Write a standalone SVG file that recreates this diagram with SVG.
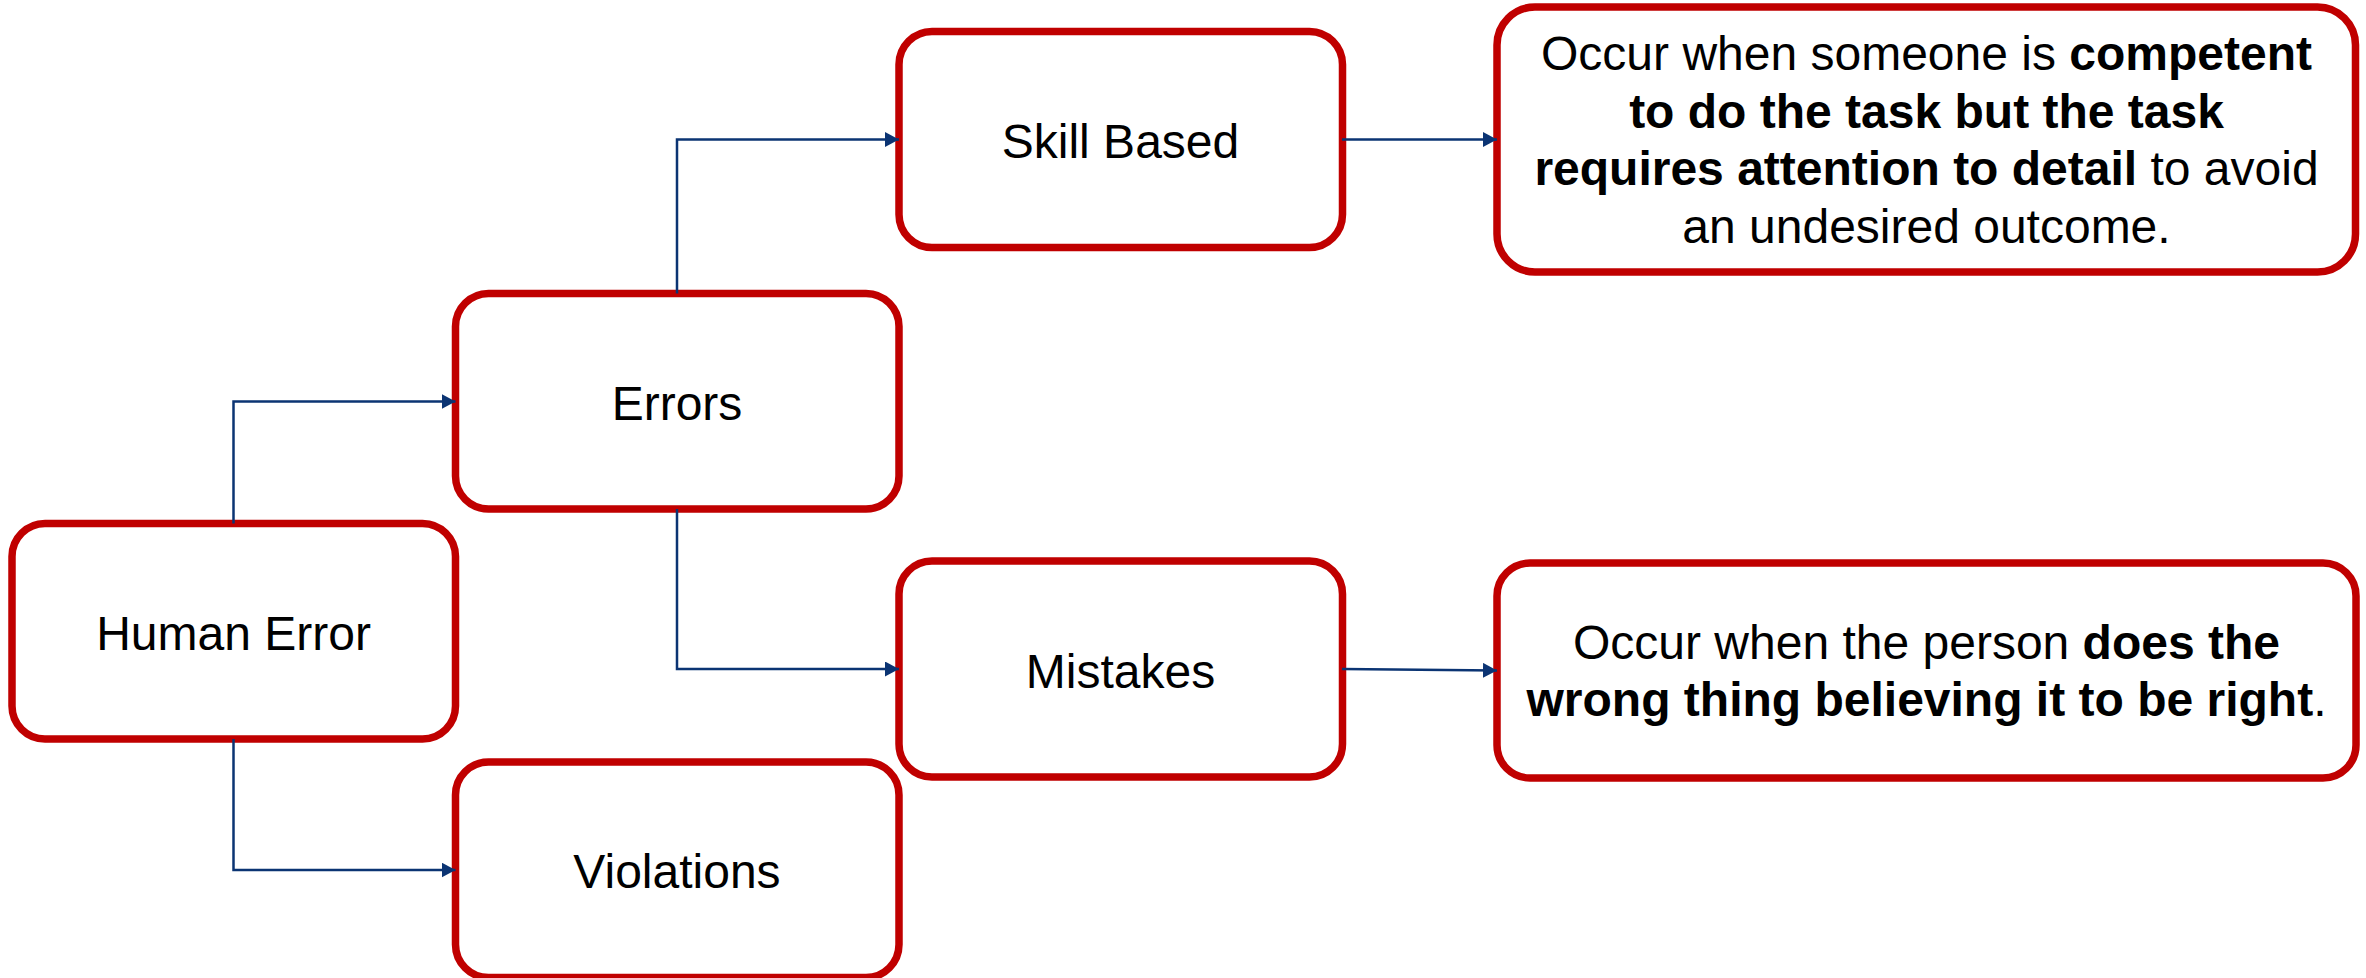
<svg xmlns="http://www.w3.org/2000/svg" width="2366" height="978" viewBox="0 0 2366 978">
  <style>
    .box { fill: #FFFFFF; stroke: #C00000; stroke-width: 7.5; }
    .lbl { font-family: "Liberation Sans", Arial, sans-serif; font-size: 48px; fill: #000000; text-anchor: middle; }
    .b { font-weight: bold; }
    .link { fill: none; stroke: #0B3473; stroke-width: 2.5; marker-end: url(#arrow); }
  </style>
  <defs>
    <marker id="arrow" markerUnits="userSpaceOnUse" markerWidth="15" markerHeight="16" refX="14" refY="7.5" orient="auto">
      <path d="M0,0 L14,7.5 L0,15 Z" fill="#0B3473"/>
    </marker>
  </defs>
  <rect width="2366" height="978" fill="#FFFFFF"/>

  <g id="human-error">
    <rect class="box" x="12" y="523.5" width="443.5" height="215.5" rx="33"/>
    <text class="lbl" x="233.5" y="649.5">Human Error</text>
  </g>

  <g id="errors">
    <rect class="box" x="455.5" y="293.5" width="443.5" height="215.5" rx="33"/>
    <text class="lbl" x="677" y="419.5">Errors</text>
  </g>

  <g id="violations">
    <rect class="box" x="455.5" y="762" width="443.5" height="215.5" rx="33"/>
    <text class="lbl" x="677" y="888">Violations</text>
  </g>

  <g id="skill-based">
    <rect class="box" x="899" y="31.5" width="443.5" height="216" rx="33"/>
    <text class="lbl" x="1120.5" y="158">Skill Based</text>
  </g>

  <g id="mistakes">
    <rect class="box" x="899" y="561" width="443.5" height="216" rx="33"/>
    <text class="lbl" x="1120.5" y="687.5">Mistakes</text>
  </g>

  <g id="skill-based-note">
    <rect class="box" x="1497" y="7" width="858.5" height="265" rx="38"/>
    <text class="lbl" x="1926.5" y="70">Occur when someone is <tspan class="b">competent</tspan></text>
    <text class="lbl b" x="1926.5" y="127.5">to do the task but the task</text>
    <text class="lbl" x="1926.5" y="185"><tspan class="b">requires attention to detail</tspan> to avoid</text>
    <text class="lbl" x="1926.5" y="242.5">an undesired outcome.</text>
  </g>

  <g id="mistakes-note">
    <rect class="box" x="1497" y="563" width="859" height="215" rx="33"/>
    <text class="lbl" x="1926.5" y="659">Occur when the person <tspan class="b">does the</tspan></text>
    <text class="lbl" x="1926.5" y="716"><tspan class="b">wrong thing believing it to be right</tspan>.</text>
  </g>

  <g id="connectors">
    <path class="link" d="M233.5,523.5 V401.5 H455.5"/>
    <path class="link" d="M233.5,739 V870 H455.5"/>
    <path class="link" d="M677,293.5 V139.5 H899"/>
    <path class="link" d="M677,509 V669 H899"/>
    <path class="link" d="M1342,139.5 H1497"/>
    <path class="link" d="M1342,669 L1497,670.5"/>
  </g>
</svg>
